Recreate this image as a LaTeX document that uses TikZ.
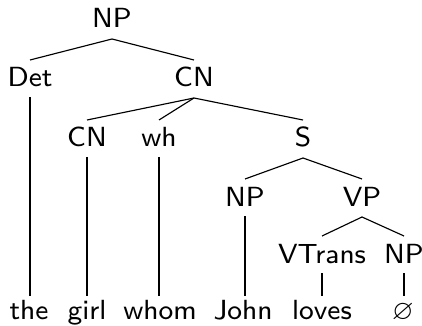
\documentclass[tikz,border=0pt]{standalone}
\usepackage{amssymb}
\usetikzlibrary{calc}
\begin{document}
\begin{tikzpicture}[x=0.289pt,y=-0.289pt,
  lab/.style={font=\footnotesize\sffamily, anchor=base, inner sep=0pt},
  branch/.style={line width=0.33pt, black}]
\useasboundingbox (0,0) rectangle (422,326);

% category labels
\node[lab] (np)  at (112,28)  {NP};
\node[lab] (det) at (30,87)   {Det};
\node[lab] (cn)  at (194,87)  {CN};
\node[lab] (cnl) at (87,147)  {CN};
\node[lab] (wh)  at (159,147) {wh};
\node[lab] (s)   at (303,147) {S};
\node[lab] (nps) at (245,206) {NP};
\node[lab] (vp)  at (362,206) {VP};
\node[lab] (vt)  at (322,263) {VTrans};
\node[lab] (npo) at (404,263) {NP};

% words
\node[lab] (the)   at (29,319)  {the};
\node[lab] (girl)  at (87,319)  {girl};
\node[lab] (whom)  at (160,319) {whom};
\node[lab] (john)  at (243,319) {John};
\node[lab] (loves) at (322,319) {loves};
\node[lab] (gap)   at (403,319) {$\varnothing$};

% branches
\foreach \p/\c in {np/det, np/cn, cn/cnl, cn/wh, cn/s, s/nps, s/vp, vp/vt, vp/npo}
  \draw[branch] ($(\p.base)+(0,11)$) -- ($(\c.base)+(0,-27)$);

% unary branches down to the words
\foreach \p/\w in {det/the, cnl/girl, wh/whom, nps/john, vt/loves, npo/gap}
  \draw[branch] ($(\p.base)+(0,10)$) -- ($(\p.base |- \w.base)+(0,-23)$);
\end{tikzpicture}
\end{document}
